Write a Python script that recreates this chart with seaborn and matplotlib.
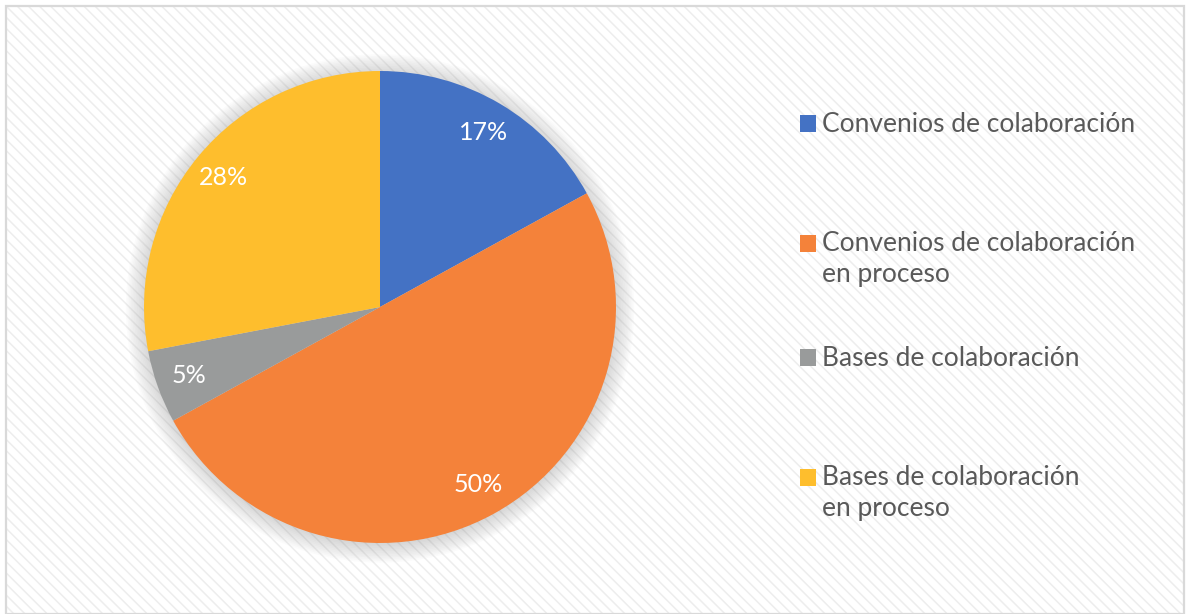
import matplotlib
matplotlib.use('Agg')
import matplotlib.pyplot as plt
import matplotlib.patches as mpatches
from matplotlib.legend_handler import HandlerPatch
import seaborn as sns

# Data
categories = ['Convenios de colaboración',
              'Convenios de colaboración\nen proceso',
              'Bases de colaboración',
              'Bases de colaboración\nen proceso']
values = [17, 50, 5, 28]
colors = ['#4472C4', '#F4823A', '#999B9B', '#FEBE2D']
legend_y = [125, 259, 359, 493]   # centre of each legend entry, pixels from top

sns.set_theme(style='white')
plt.rcParams['font.family'] = ['Lato', 'DejaVu Sans']
plt.rcParams['hatch.linewidth'] = 1.1

fig = plt.figure(figsize=(11.9, 6.14), dpi=100)
fig.patch.set_facecolor('white')

# hatched background + frame
bg = mpatches.Rectangle((6 / 1190, 0), 1 - 12 / 1190, 1 - 6 / 614, transform=fig.transFigure,
                        facecolor='white', edgecolor='#ededed', linewidth=0,
                        hatch='\\' * 3, zorder=-2)
frame = mpatches.Rectangle((6 / 1190, 0), 1 - 12 / 1190, 1 - 6 / 614, transform=fig.transFigure,
                           facecolor='none', edgecolor='#d9d9d9', linewidth=1.6, zorder=-1)
fig.patches.extend([bg, frame])

ax = fig.add_axes([(380 - 236) / 1190, (614 - 307 - 236) / 614, 472 / 1190, 472 / 614])
ax.set_facecolor('none')

# soft shadow round the pie
for i in range(12):
    ax.add_patch(mpatches.Circle((0, -0.006), 1.0 + 0.007 * i, facecolor='#707070',
                                 edgecolor='none', alpha=0.022, clip_on=False, zorder=0))

wedges, texts, autotexts = ax.pie(values, colors=colors, startangle=90, counterclock=False,
                                  autopct=lambda p: f'{p:.0f}%', pctdistance=0.86,
                                  wedgeprops=dict(linewidth=0),
                                  textprops=dict(color='white', fontsize=18))
for w in wedges:
    w.set_zorder(2)
for t in autotexts:
    t.set_zorder(3)
ax.set_xlim(-1, 1)
ax.set_ylim(-1, 1)
ax.set_aspect('equal')


def top_square(shift):
    def make(legend, orig_handle, xdescent, ydescent, width, height, fontsize):
        return mpatches.Rectangle((-xdescent, -ydescent + shift), width, height)
    return make


fs = 19
ls = 1.3
for w, lab, yc in zip(wedges, categories, legend_y):
    nlines = lab.count('\n') + 1
    shift = (nlines - 1) * fs * ls / 2 * 0.95
    leg = fig.legend([w], [lab], loc='center left', bbox_to_anchor=(800 / 1190, 1 - yc / 614),
                     frameon=False, fontsize=fs, handlelength=0.6, handleheight=0.6,
                     handletextpad=0.25, borderpad=0, borderaxespad=0, labelcolor='#595959',
                     handler_map={w: HandlerPatch(patch_func=top_square(shift))})
    for t in leg.get_texts():
        t.set_linespacing(ls)
    for h in leg.legend_handles:
        h.set_edgecolor('none')
        h.set_facecolor(w.get_facecolor())

fig.savefig('out.png', dpi=100)
